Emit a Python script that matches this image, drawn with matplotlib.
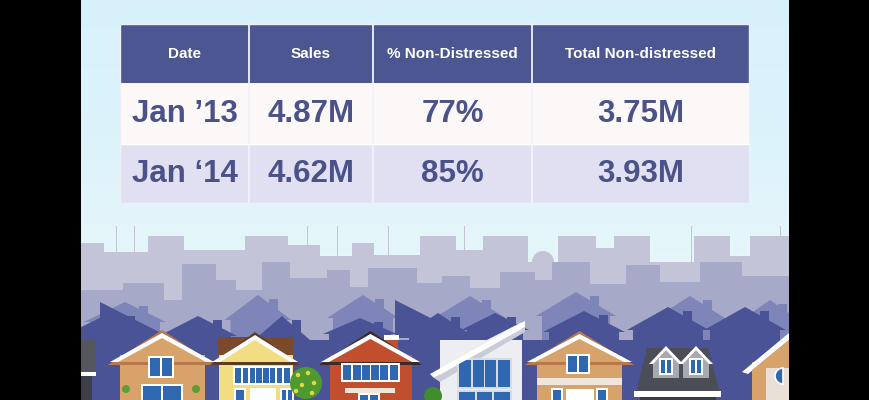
import numpy as np
import matplotlib
matplotlib.use("Agg")
import matplotlib.pyplot as plt
from matplotlib.patches import Rectangle, Polygon, Circle, Wedge

plt.rcParams['font.family'] = ['Liberation Sans', 'DejaVu Sans']

# table data
columns = ["Date", "Sales", "% Non-Distressed", "Total Non-distressed"]
dates = ["Jan \u201913", "Jan \u201814"]
sales = [4.87, 4.62]
pct_non_distressed = [77, 85]
total_non_distressed = [3.75, 3.93]

HEADER = "#4c5690"
ROW_COLORS = ["#fcf8f8", "#e0e0f2"]
TEXT = "#4a5289"


def rect(ax, x0, y0, x1, y1, color, z, **kw):
    ax.add_patch(Rectangle((x0, y0), x1 - x0, y1 - y0, facecolor=color, edgecolor='none', zorder=z, **kw))


def poly(ax, pts, color, z, **kw):
    ax.add_patch(Polygon(pts, closed=True, facecolor=color, edgecolor='none', zorder=z, **kw))


def silhouette(ax, xc, w, eave, peak, color, z, chimney=None):
    pts = [(xc - w / 2, 400), (xc - w / 2, eave), (xc - w / 2 - 6, eave), (xc, peak),
           (xc + w / 2 + 6, eave), (xc + w / 2, eave), (xc + w / 2, 400)]
    poly(ax, pts, color, z)
    if chimney is not None:
        rect(ax, xc + chimney, peak + 4, xc + chimney + 9, peak + 20, color, z)


def draw_background(ax):
    rect(ax, 0, 0, 870, 400, "black", 0)
    grad = np.linspace(0, 1, 200).reshape(-1, 1)
    ax.imshow(grad, extent=(81, 789, 400, 0), cmap=matplotlib.colors.LinearSegmentedColormap.from_list(
        "sky", ["#d7f1fb", "#dcf3fb", "#e6f6f9", "#e6f6f9"]), aspect='auto', zorder=0.5)

    # far skyline
    far = "#c3c4d8"
    for x0, x1, top in [(81, 104, 243), (104, 150, 252), (148, 184, 236), (184, 246, 250), (245, 288, 236),
                        (288, 320, 245), (320, 352, 256), (352, 374, 243), (374, 420, 255), (420, 456, 236),
                        (456, 484, 250), (483, 528, 236), (528, 558, 262), (558, 596, 236), (596, 614, 248),
                        (614, 650, 236), (650, 694, 262), (694, 730, 236), (730, 750, 256), (750, 789, 236)]:
        rect(ax, x0, top, x1, 400, far, 1)
    for x in [116, 134, 307, 337, 388, 464, 691, 780]:
        rect(ax, x, 226, x + 1.5, 262, far, 1)
    ax.add_patch(Circle((543, 262), 11, facecolor=far, edgecolor='none', zorder=1))

    # mid skyline
    mid = "#a6a9c8"
    for x0, x1, top in [(81, 123, 290), (123, 164, 283), (164, 182, 300), (182, 216, 264), (216, 236, 280),
                        (236, 262, 290), (262, 290, 262), (290, 327, 278), (327, 350, 270), (350, 368, 287),
                        (368, 417, 268), (417, 442, 283), (442, 470, 276), (470, 500, 288), (500, 535, 272),
                        (535, 552, 280), (552, 590, 262), (590, 626, 284), (626, 660, 265), (660, 700, 282),
                        (700, 742, 262), (742, 789, 276)]:
        rect(ax, x0, top, x1, 400, mid, 2)

    # nearer house silhouettes
    near = "#7e86b9"
    for xc, w, eave, peak in [(125, 70, 322, 302), (258, 55, 320, 295), (363, 60, 318, 295), (470, 60, 318, 296),
                              (576, 68, 316, 292), (690, 64, 320, 296), (770, 40, 318, 300)]:
        silhouette(ax, xc, w, eave, peak, near, 3, chimney=w * 0.2)

    # dark blue silhouettes
    dark = "#4a5396"
    rect(ax, 81, 340, 789, 400, dark, 4)
    for xc, w, eave, peak in [(112, 62, 330, 312), (198, 66, 336, 316), (282, 44, 340, 316), (360, 62, 334, 318),
                              (438, 58, 336, 313), (495, 56, 330, 313), (584, 70, 332, 311), (668, 70, 330, 307),
                              (745, 70, 330, 307)]:
        silhouette(ax, xc, w, eave, peak, dark, 4, chimney=w * 0.22)
    poly(ax, [(100, 302), (175, 340), (100, 340)], dark, 4)
    poly(ax, [(395, 300), (470, 338), (395, 338)], dark, 4)


def window(ax, x0, y0, x1, y1, nx, z, frame="white", glass="#2f67b0"):
    rect(ax, x0 - 2, y0 - 2, x1 + 2, y1 + 2, frame, z)
    rect(ax, x0, y0, x1, y1, glass, z)
    for x in np.linspace(x0, x1, nx + 1)[1:-1]:
        rect(ax, x - 0.8, y0, x + 0.8, y1, frame, z)


def gable(ax, x0, x1, peak, base, fill, z, trim="white", roof="#b9784a"):
    xc = (x0 + x1) / 2
    poly(ax, [(x0 - 2, base + 3), (xc, peak - 3), (x1 + 2, base + 3)], roof, z)
    poly(ax, [(x0, base), (xc, peak), (x1, base)], trim, z)
    poly(ax, [(x0 + 8, base), (xc, peak + 5), (x1 - 8, base)], fill, z)


def draw_houses(ax):
    z = 5
    # left partial gray house
    rect(ax, 81, 340, 96, 372, "#55575f", z)
    rect(ax, 81, 372, 96, 376, "white", z)
    rect(ax, 81, 376, 92, 400, "#3d3f48", z)

    # tan house
    tan = "#d8a36b"
    rect(ax, 120, 355, 205, 400, tan, z)
    gable(ax, 110, 214, 333, 362, tan, z)
    ax.add_patch(Wedge((161, 358), 11, 0, 180, facecolor="#2f67b0", edgecolor="white", lw=1.5, zorder=z))
    window(ax, 150, 358, 172, 376, 2, z)
    window(ax, 143, 386, 181, 402, 2, z)
    for x in [126, 196]:
        ax.add_patch(Circle((x, 389), 4, facecolor="#5a9e35", edgecolor='none', zorder=z))

    # yellow house
    yel = "#f2dd82"
    rect(ax, 218, 337, 293, 355, "#7a4a2a", z)
    rect(ax, 219, 355, 293, 400, yel, z)
    gable(ax, 212, 298, 335, 362, yel, z, roof="#5e3a22")
    window(ax, 235, 368, 290, 383, 8, z)
    window(ax, 236, 390, 244, 402, 1, z)
    rect(ax, 250, 388, 276, 400, "white", z)
    window(ax, 282, 390, 292, 402, 2, z)

    # tree
    ax.add_patch(Circle((306, 383), 16, facecolor="#4f9a2e", edgecolor='none', zorder=z + 0.5))
    for dx, dy in [(-8, -8), (2, -10), (8, 0), (-4, 2), (6, 10), (-10, 8)]:
        ax.add_patch(Circle((306 + dx, 383 + dy), 2.2, facecolor="#e5d548", edgecolor='none', zorder=z + 0.5))

    # red house
    red = "#c24e30"
    rect(ax, 385, 337, 398, 352, red, z)
    rect(ax, 384, 335, 399, 340, "white", z)
    rect(ax, 330, 355, 412, 400, red, z)
    gable(ax, 321, 420, 334, 362, red, z, roof="#3b2a25")
    window(ax, 343, 365, 398, 380, 6, z)
    rect(ax, 345, 388, 395, 393, "#f3e4d8", z)
    window(ax, 360, 395, 378, 404, 2, z)

    # white modern house
    rect(ax, 440, 340, 522, 400, "#eceef2", z)
    poly(ax, [(440, 372), (522, 330), (522, 322), (440, 364)], "#eceef2", z)
    poly(ax, [(430, 374), (525, 321), (525, 327), (434, 378)], "white", z + 0.1)
    poly(ax, [(434, 378), (525, 327), (525, 332), (440, 382)], "#c9ccd6", z)
    window(ax, 459, 360, 510, 387, 4, z, frame="#d8dbe3")
    window(ax, 459, 392, 510, 402, 3, z, frame="#d8dbe3")
    ax.add_patch(Circle((433, 396), 9, facecolor="#3f8d2b", edgecolor='none', zorder=z + 0.5))

    # second tan house
    rect(ax, 537, 356, 622, 400, tan, z)
    gable(ax, 527, 632, 334, 362, tan, z)
    ax.add_patch(Wedge((578, 356), 10, 0, 180, facecolor="#2f67b0", edgecolor="white", lw=1.5, zorder=z))
    window(ax, 568, 356, 588, 372, 2, z)
    rect(ax, 537, 378, 622, 385, "#f0e6da", z)
    window(ax, 553, 390, 561, 402, 1, z)
    rect(ax, 566, 389, 594, 400, "white", z)
    window(ax, 598, 390, 606, 402, 1, z)

    # gray house with dormers
    poly(ax, [(636, 393), (647, 348), (708, 348), (720, 393)], "#4b4d57", z)
    for xc in [666, 696]:
        poly(ax, [(xc - 17, 364), (xc, 346), (xc + 17, 364)], "white", z)
        poly(ax, [(xc - 13, 364), (xc, 350), (xc + 13, 364)], "#a7a9b0", z)
        rect(ax, xc - 13, 364, xc + 13, 378, "#a7a9b0", z)
        window(ax, xc - 5, 360, xc + 5, 373, 2, z)
    rect(ax, 634, 391, 721, 397, "white", z)
    rect(ax, 640, 397, 716, 400, "#3a3c45", z)

    # right partial tan house
    rect(ax, 752, 362, 789, 400, tan, z)
    poly(ax, [(742, 372), (789, 333), (789, 340), (748, 374)], "white", z)
    poly(ax, [(752, 370), (789, 340), (789, 400), (752, 400)], tan, z)
    rect(ax, 766, 368, 789, 400, "#e8e0d6", z)
    ax.add_patch(Wedge((783, 376), 8, 90, 270, facecolor="#2f67b0", edgecolor="white", lw=1.2, zorder=z))

    # black side bars on top of the scene
    rect(ax, 0, 0, 81, 400, "black", 9)
    rect(ax, 789, 0, 870, 400, "black", 9)


def draw_table(ax):
    col_edges = [120, 249, 373, 532, 749]
    row_edges = [24, 83, 144, 203]
    body = [dates,
            ["{:.2f}M".format(v) for v in sales],
            ["{}%".format(v) for v in pct_non_distressed],
            ["{:.2f}M".format(v) for v in total_non_distressed]]

    rect(ax, col_edges[0], row_edges[0], col_edges[-1], row_edges[1], HEADER, 10)
    for i in range(2):
        rect(ax, col_edges[0], row_edges[i + 1], col_edges[-1], row_edges[i + 2], ROW_COLORS[i], 10)
    for x in col_edges[1:-1]:
        ax.plot([x, x], [row_edges[0], row_edges[-1]], color="#f2f2fa", lw=1.3, zorder=11)
    ax.plot([col_edges[0], col_edges[-1]], [row_edges[2], row_edges[2]], color="white", lw=1, zorder=11)
    ax.add_patch(Rectangle((col_edges[0], row_edges[0]), col_edges[-1] - col_edges[0], row_edges[-1] - row_edges[0],
                           facecolor='none', edgecolor="#eef0f8", lw=1, zorder=11))

    for j, name in enumerate(columns):
        xc = (col_edges[j] + col_edges[j + 1]) / 2
        ax.text(xc, (row_edges[0] + row_edges[1]) / 2 + 1, name, color="white", fontsize=11, fontweight='bold',
                ha='center', va='center', zorder=12)
        for i in range(2):
            ax.text(xc, (row_edges[i + 1] + row_edges[i + 2]) / 2 + 1, body[j][i], color=TEXT, fontsize=22.5,
                    fontweight='bold', ha='center', va='center', zorder=12)


fig = plt.figure(figsize=(8.7, 4.0), dpi=100)
ax = fig.add_axes([0, 0, 1, 1])
ax.set_xlim(0, 870)
ax.set_ylim(400, 0)
ax.axis('off')

draw_background(ax)
draw_houses(ax)
draw_table(ax)

fig.savefig("out.png", dpi=100)
